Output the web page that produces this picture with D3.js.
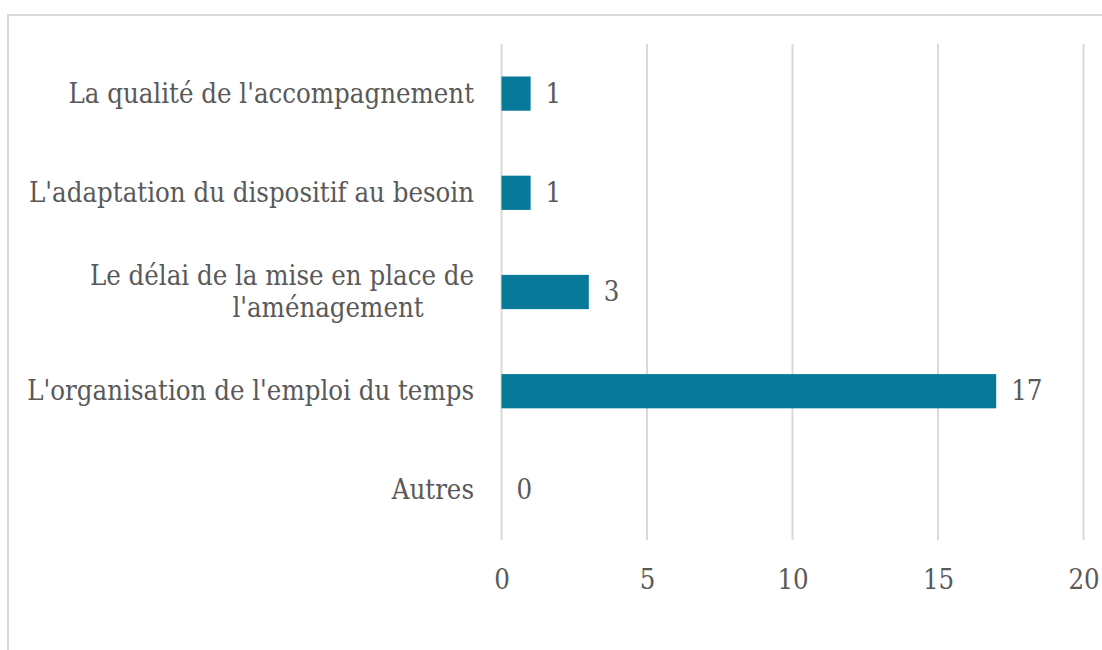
<!DOCTYPE html>
<html><head><meta charset="utf-8">
<script src="https://cdn.jsdelivr.net/npm/d3@7"></script>
<style>body{margin:0;background:#fff}svg{display:block}text{font-family:"DejaVu Serif Condensed","DejaVu Serif",serif;fill:#595959}</style>
</head><body><svg id="c" width="1102" height="650"></svg>
<script>
const categories = ["La qualité de l'accompagnement","L'adaptation du dispositif au besoin","Le délai de la mise en place de l'aménagement","L'organisation de l'emploi du temps","Autres"];
const labelLines = [["La qualité de l'accompagnement"],["L'adaptation du dispositif au besoin"],["Le délai de la mise en place de","l'aménagement"],["L'organisation de l'emploi du temps"],["Autres"]];
const values = [1,1,3,17,0];
const ticks = [0,5,10,15,20];

const svg = d3.select("#c");
svg.append("rect").attr("x",8).attr("y",15).attr("width",1200).attr("height",700)
  .attr("fill","#fff").attr("stroke","#d9d9d9").attr("stroke-width",2);

// measure to fit the longest label into the space the reference gives it
const probe = svg.append("text").style("font-size","100px").text("L'organisation de l'emploi du temps");
const w100 = probe.node().getComputedTextLength();
probe.remove();
const fs = Math.min(28, 100*447/w100);

const x = d3.scaleLinear().domain([0,20]).range([501.5,1083.5]);
const y = d3.scaleBand().domain(categories).range([44,540]).paddingInner(0.655).paddingOuter(0.3275);

svg.append("g").selectAll("line").data(ticks).join("line")
  .attr("x1",d=>x(d)).attr("x2",d=>x(d)).attr("y1",44).attr("y2",540)
  .attr("stroke","#d9d9d9").attr("stroke-width",2);

const xAxis = d3.axisBottom(x).tickValues(ticks).tickSize(0).tickPadding(0);
const gx = svg.append("g").attr("transform","translate(0,540)").call(xAxis);
gx.select(".domain").remove();
gx.selectAll("text").attr("dy",null).attr("y",49).style("font-size",fs+"px").style("font-family",null).attr("fill","#595959");

svg.append("g").selectAll("rect").data(values).join("rect")
  .attr("x",x(0)).attr("y",(d,i)=>y(categories[i])).attr("height",y.bandwidth())
  .attr("width",d=>x(d)-x(0)).attr("fill","#067a98");

svg.append("g").selectAll("text").data(values).join("text")
  .attr("x",d=>x(d)+15).attr("y",(d,i)=>y(categories[i])+y.bandwidth()/2+9)
  .style("font-size",fs+"px").text(d=>d);

const lg = svg.append("g");
labelLines.forEach((lines,i)=>{
  const cy = y(categories[i])+y.bandwidth()/2;
  if(lines.length===1){
    lg.append("text").attr("x",474).attr("y",cy+9).attr("text-anchor","end").style("font-size",fs+"px").text(lines[0]);
  } else {
    lg.append("text").attr("x",474).attr("y",cy-16+9).attr("text-anchor","end").style("font-size",fs+"px").text(lines[0]);
    lg.append("text").attr("x",328).attr("y",cy+16+9).attr("text-anchor","middle").style("font-size",fs+"px").text(lines[1]);
  }
});
</script></body></html>
